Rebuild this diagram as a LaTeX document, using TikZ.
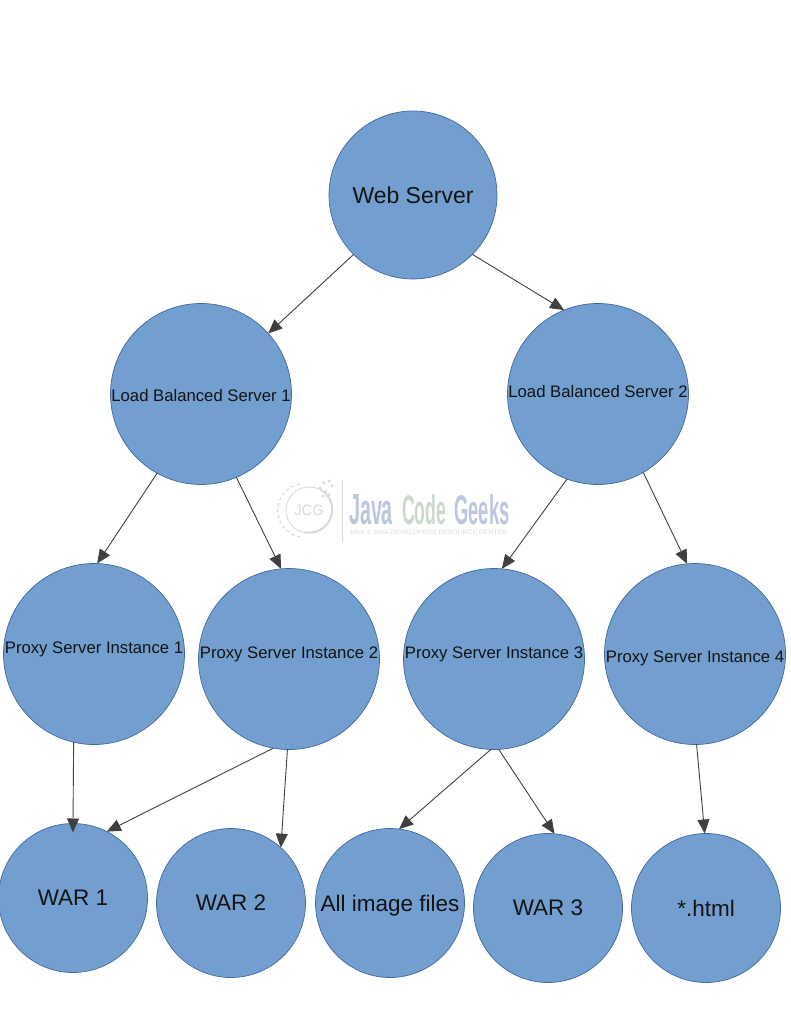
\documentclass[tikz,border=0pt]{standalone}
\usepackage{fontspec}
\usepackage{graphicx}
\setmainfont{Liberation Sans}
\usetikzlibrary{arrows.meta}
\definecolor{circlefill}{HTML}{729FCF}
\definecolor{circleline}{HTML}{3F6A9E}
\definecolor{markblue}{HTML}{BCC6E0}
\definecolor{markgreen}{HTML}{CBD8CC}
\definecolor{markgrey}{HTML}{DADADA}
\tikzset{
    circlenode/.style={draw=circleline, circle, fill=circlefill, line width=0.7pt,
        inner sep=0pt, outer sep=0pt, text=black!92},
    topnode/.style={circlenode, minimum size=168pt, font=\fontsize{23}{27}\selectfont},
    midnode/.style={circlenode, minimum size=181pt, font=\fontsize{16.7}{20}\selectfont},
    leafnode/.style={circlenode, minimum size=149pt, font=\fontsize{22.5}{27}\selectfont},
    textbox/.style 2 args={text height=#1, text depth=#2},
    arrowline/.style={-{Triangle[length=14pt,width=12pt]}, line width=0.9pt, draw=black!75},
    markline/.style={draw=markgrey, line width=0.8pt},
    markword/.style={inner sep=0pt, font=\bfseries}
}
\begin{document}
\begin{tikzpicture}[x=1pt,y=-1pt]
    \useasboundingbox (0,0) rectangle (791,1024);

    % watermark
    \node[markline, circle, minimum size=46pt, inner sep=0pt] (logo) at (309,510) {};
    \node[inner sep=0pt, text=markgrey, font=\fontsize{15}{15}\selectfont] (logotext) at (309,510) {JCG};
    \draw[markline, line width=2pt] (logo.60) arc[start angle=60, end angle=-100, radius=23pt];
    \draw[markline, dashed, line width=1.2pt] (300,537) arc[start angle=260, end angle=100, radius=27pt];
    \coordinate (bartop) at (342,480);
    \coordinate (barend) at (342,543);
    \draw[markline] (bartop) -- (barend);
    \foreach \dotx/\doty in {320/488, 324/483, 329/481, 332/486, 326/491, 329/495, 323/496}
        \fill[markgrey] (\dotx,\doty) circle[radius=1.6pt];
    \node[markword, text=markblue] (markjava) at (371,510) {\resizebox{44pt}{30pt}{Java}};
    \node[markword, text=markgreen] (markcode) at (424,510) {\resizebox{44pt}{30pt}{Code}};
    \node[markword, text=markblue] (markgeeks) at (482,510) {\resizebox{55pt}{30pt}{Geeks}};
    \node[inner sep=0pt, text=markgrey] (marksub) at (428,532)
        {\resizebox{158pt}{4.5pt}{JAVA 2 JAVA DEVELOPERS RESOURCE CENTER}};

    % circles
    \node[topnode] (web) at (413,195) {Web Server};

    \node[midnode, textbox={18pt}{3.5pt}] (lb1) at (201,394) {Load Balanced Server 1};
    \node[midnode, textbox={12pt}{5.5pt}] (lb2) at (598,394) {Load Balanced Server 2};

    \node[midnode, textbox={12pt}{13.5pt}] (proxy1) at (94,654) {Proxy Server Instance 1};
    \node[midnode, textbox={12pt}{13.5pt}] (proxy2) at (289,659) {Proxy Server Instance 2};
    \node[midnode, textbox={12pt}{13.5pt}] (proxy3) at (494,659) {Proxy Server Instance 3};
    \node[midnode, textbox={20pt}{3.5pt}] (proxy4) at (695,654) {Proxy Server Instance 4};

    \node[leafnode] (war1) at (73,898) {WAR 1};
    \node[leafnode] (war2) at (231,903) {WAR 2};
    \node[leafnode, textbox={22.5pt}{4.7pt}] (images) at (390,903) {All image files};
    \node[leafnode] (war3) at (548,908) {WAR 3};
    \node[leafnode] (html) at (706,908) {*.html};

    % arrows
    \draw[arrowline] (web.225) -- (lb1.42);
    \draw[arrowline] (web.-45) -- (lb2.112);

    \draw[arrowline] (lb1.241) -- (proxy1.88);
    \draw[arrowline] (lb1.293) -- (proxy2.95);
    \draw[arrowline] (lb2.250) -- (proxy3.85);
    \draw[arrowline] (lb2.300) -- (proxy4.95);

    \draw[arrowline, shorten >=-9pt] (proxy1.257) -- (war1.90);
    \draw[arrowline] (proxy2.260) -- (war1.63);
    \draw[arrowline] (proxy2.269) -- (war2.48);
    \draw[arrowline] (proxy3.268) -- (images.83);
    \draw[arrowline] (proxy3.273) -- (war3.85);
    \draw[arrowline] (proxy4.271) -- (html.91);
\end{tikzpicture}
\end{document}
